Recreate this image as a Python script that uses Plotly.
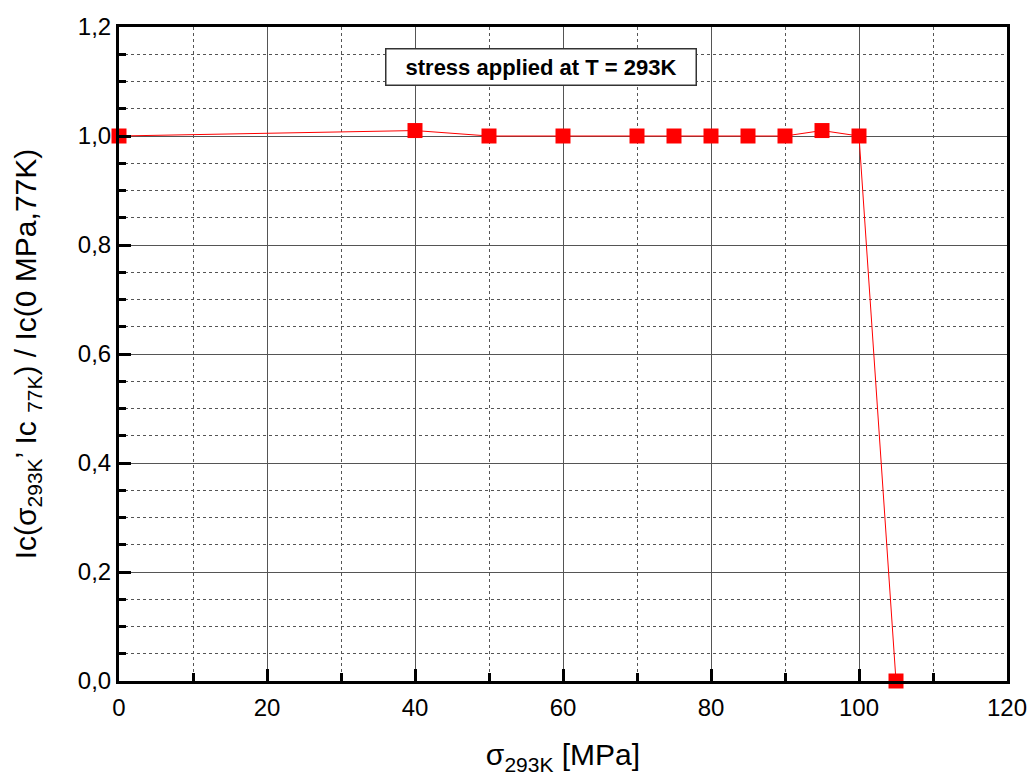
import plotly.graph_objects as go

stress = [0, 40, 50, 60, 70, 75, 80, 85, 90, 95, 100, 105]
ic_ratio = [1.0, 1.01, 1.0, 1.0, 1.0, 1.0, 1.0, 1.0, 1.0, 1.01, 1.0, 0.0]

fig = go.Figure()
fig.add_trace(go.Scatter(
    x=stress, y=ic_ratio, mode="lines+markers",
    line=dict(color="#ff0000", width=1),
    marker=dict(symbol="square", size=15, color="#ff0000"),
    cliponaxis=False, showlegend=False,
))

font = "Liberation Sans"
fig.update_layout(
    width=1034, height=783,
    margin=dict(l=119, r=27, t=27, b=102, autoexpand=False),
    plot_bgcolor="white", paper_bgcolor="white",
    separators=", ",
    font=dict(family=font, color="black", size=24),
    xaxis=dict(
        range=[0, 120], tickvals=[0, 20, 40, 60, 80, 100, 120],
        showline=True, linewidth=3, linecolor="black", mirror=True,
        ticks="inside", ticklen=12, tickwidth=3, tickcolor="black",
        showgrid=True, gridcolor="#555555", gridwidth=1,
        zeroline=False, ticklabelstandoff=3, automargin=False,
        minor=dict(dtick=10, ticks="inside", ticklen=8, tickwidth=3, tickcolor="black",
                   showgrid=True, gridcolor="#555555", griddash="dot", gridwidth=1),
        title=dict(text="σ<sub>293K</sub> [MPa]", font=dict(size=30, family=font), standoff=25),
        tickfont=dict(size=24, family=font),
    ),
    yaxis=dict(
        range=[0, 1.2], dtick=0.2, tickformat=".1f",
        showline=True, linewidth=3, linecolor="black", mirror=True,
        ticks="inside", ticklen=12, tickwidth=3, tickcolor="black",
        showgrid=True, gridcolor="#555555", gridwidth=1,
        zeroline=False, automargin=False,
        minor=dict(dtick=0.05, ticks="inside", ticklen=7, tickwidth=3, tickcolor="black",
                   showgrid=True, gridcolor="#555555", griddash="dot", gridwidth=1),
        title=dict(text="Ic(σ<sub>293K</sub>’ Ic <sub>77K</sub>) / Ic(0 MPa,77K)",
                   font=dict(size=30, family=font), standoff=33),
        tickfont=dict(size=24, family=font),
    ),
    annotations=[dict(
        x=57.0, y=1.1257, xref="x", yref="y",
        text="<b>stress applied at T = 293K</b>", showarrow=False,
        font=dict(size=22, family=font), bgcolor="white",
        bordercolor="#333333", borderwidth=1.5, borderpad=1,
        width=307, height=33,
    )],
)

fig.write_html("out.html")
